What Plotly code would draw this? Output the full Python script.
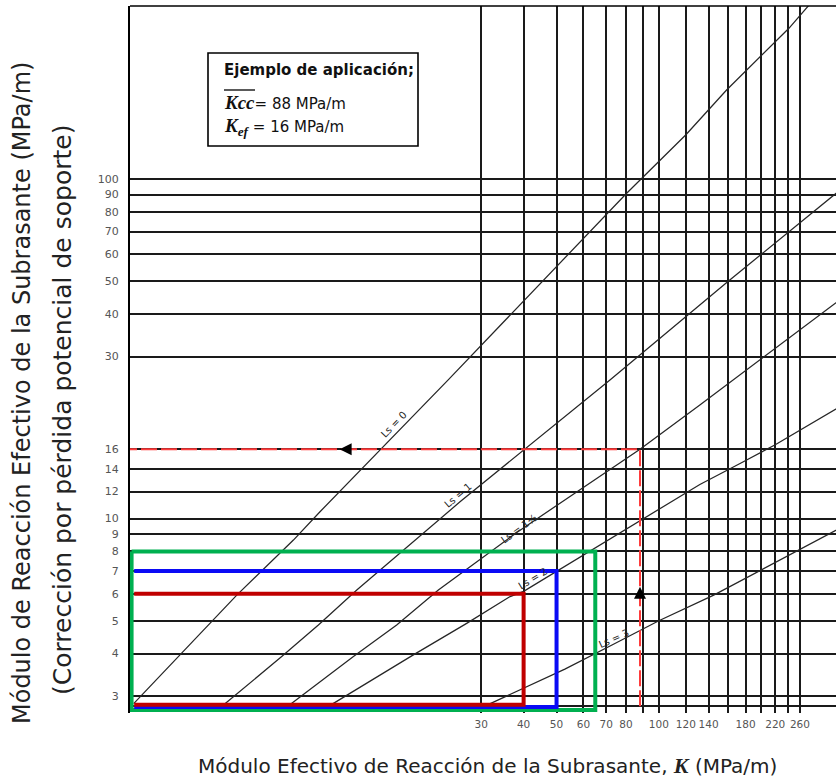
import numpy as np
import plotly.graph_objects as go

# --- Ls curves: effective modulus K (x) vs corrected modulus Kef (y), MPa/m ---
ls0_k = [2.85, 3.86, 5.73, 8.41, 10.07, 24.0, 80.4, 119.9, 158.2, 241.3, 280.0]
ls0_kef = [2.85, 3.92, 5.95, 8.64, 10.47, 25.6, 90.8, 134.8, 182.9, 277.9, 330.0]

ls1_k = [5.3, 7.77, 9.96, 12.92, 26.0, 71.8, 160, 200, 240, 340]
ls1_kef = [2.85, 3.92, 4.86, 6.16, 11.2, 25.6, 50, 60, 70, 92.5]

ls15_k = [8.3, 12.63, 16.93, 22.45, 38.2, 88, 132, 200, 340]
ls15_kef = [2.85, 3.92, 4.86, 6.16, 9.1, 16.0, 21.6, 29.5, 44.0]

ls2_k = [11.0, 18.9, 27.2, 36.5, 40, 132, 175, 220, 340]
ls2_kef = [2.85, 3.96, 4.91, 5.89, 6.1, 12.6, 14.6, 16.5, 21.3]

ls3_k = [31.9, 52.9, 72.8, 100, 145, 200, 340]
ls3_kef = [2.85, 3.6, 4.24, 5.0, 5.95, 7.05, 9.35]

curve_names = ["Ls = 0", "Ls = 1", "Ls = 1½", "Ls = 2", "Ls = 3"]
label_k = [16.6, 25.6, 38.8, 42.6, 73.8]
label_kef = [18.9, 11.7, 9.35, 6.65, 4.42]
label_angle = [-46, -40, -36, -31, -24]

# --- grid values: labelled and unlabelled lines ---
k_ticks = [30, 40, 50, 60, 70, 80, 100, 120, 140, 180, 220, 260]
k_extra = [90, 160, 200, 240]
kef_base = 2.8
kef_ticks = [3, 4, 5, 6, 7, 8, 9, 10, 12, 14, 16, 30, 40, 50, 60, 70, 80, 90, 100]
kef_extra = [kef_base]

# --- worked example ---
ex_kcc = 88
ex_kef = 16

# --- highlighted cases (K, Kef) ---
case_k = [65, 50, 40]
case_kef = [8, 7, 6]
case_bottom = [2.73, 2.785, 2.83]
case_left = [2.81, 2.86, 2.86]
case_closed = [True, False, False]
case_color = ["#00b050", "#0a0af5", "#c00000"]

x_min, x_max = 2.78, 332.0
y_min, y_max = 2.674, 323.3

W, H = 836, 779
ML, MR, MT, MB = 130, 0, 6, 66
PW, PH = W - ML - MR, H - MT - MB
SANS = "DejaVu Sans"
SERIF = "Liberation Serif"
GRID = dict(showgrid=True, gridcolor="#1a1a1a", gridwidth=1.6)


def px(x):
    return (x - ML) / PW


def py(y):
    return (H - MB - y) / PH


fig = go.Figure()

curve_line = dict(color="#262626", width=1.25)
for ks, kefs in [(ls0_k, ls0_kef), (ls1_k, ls1_kef), (ls15_k, ls15_kef),
                 (ls2_k, ls2_kef), (ls3_k, ls3_kef)]:
    fig.add_trace(go.Scatter(x=ks, y=kefs, mode="lines", line=curve_line,
                             hoverinfo="skip", showlegend=False))

# example path
fig.add_trace(go.Scatter(x=[ex_kcc, ex_kcc, x_min], y=[kef_base, ex_kef, ex_kef],
                         mode="lines", line=dict(color="#ff3b3b", width=2, dash="16px,4px"),
                         hoverinfo="skip", showlegend=False))

# highlighted rectangles (the outer one is closed along the axis)
for k, kef, b, l, closed, c in zip(case_k, case_kef, case_bottom, case_left,
                                   case_closed, case_color):
    xs = [l, k, k, l] + ([l] if closed else [])
    ys = [kef, kef, b, b] + ([kef] if closed else [])
    fig.add_trace(go.Scatter(x=xs, y=ys, mode="lines", line=dict(color=c, width=4),
                             hoverinfo="skip", showlegend=False))

# direction arrows on the example path
fig.add_trace(go.Scatter(x=[ex_kcc], y=[6.3], mode="markers",
                         marker=dict(symbol="arrow-up", size=12, color="black"),
                         hoverinfo="skip", showlegend=False))
fig.add_trace(go.Scatter(x=[11.5], y=[ex_kef], mode="markers",
                         marker=dict(symbol="arrow-left", size=12, color="black"),
                         hoverinfo="skip", showlegend=False))

annotations = []
for name, k, kef, ang in zip(curve_names, label_k, label_kef, label_angle):
    annotations.append(dict(x=np.log10(k), y=np.log10(kef), xref="x", yref="y",
                            text=name, showarrow=False, textangle=ang,
                            font=dict(family=SANS, size=10, color="#222")))

serif = f"font-family:{SERIF};font-size:19px"
annotations += [
    dict(x=px(222), y=py(70), xref="paper", yref="paper", xanchor="left", yanchor="middle",
         text="<b>Ejemplo de aplicación;</b>", showarrow=False,
         font=dict(family=SANS, size=15, color="#111")),
    dict(x=px(222), y=py(102), xref="paper", yref="paper", xanchor="left", yanchor="middle",
         text=f'<span style="{serif}"><b><i>Kcc</i></b></span>= {ex_kcc} MPa/m', showarrow=False,
         font=dict(family=SANS, size=15, color="#111")),
    dict(x=px(222), y=py(127), xref="paper", yref="paper", xanchor="left", yanchor="middle",
         text=f'<span style="{serif}"><b><i>K<sub>ef</sub></i></b></span> = {ex_kef} MPa/m',
         showarrow=False, font=dict(family=SANS, size=15, color="#111")),
    dict(x=px(487), y=py(765), xref="paper", yref="paper", xanchor="center", yanchor="middle",
         text='Módulo Efectivo de Reacción de la Subrasante, '
              f'<span style="font-family:{SERIF};font-size:22px"><b><i>K</i></b></span> (MPa/m)',
         showarrow=False, font=dict(family=SANS, size=20, color="#222")),
    dict(x=px(22), y=py(393), xref="paper", yref="paper", xanchor="center", yanchor="middle",
         text="Módulo de Reacción Efectivo de la Subrasante (MPa/m)", textangle=-90,
         showarrow=False, font=dict(family=SANS, size=24, color="#222")),
    dict(x=px(62), y=py(410), xref="paper", yref="paper", xanchor="center", yanchor="middle",
         text="(Corrección por pérdida potencial de soporte)", textangle=-90,
         showarrow=False, font=dict(family=SANS, size=25, color="#222")),
]

shapes = [
    dict(type="line", xref="paper", yref="paper", x0=0, x1=1, y0=1, y1=1,
         line=dict(color="black", width=1.6)),
    dict(type="rect", xref="paper", yref="paper", x0=px(208), x1=px(418), y0=py(146), y1=py(53),
         line=dict(color="black", width=1.6)),
    dict(type="line", xref="paper", yref="paper", x0=px(224), x1=px(255), y0=py(90), y1=py(90),
         line=dict(color="black", width=1.3)),
]

fig.update_layout(
    width=W, height=H, margin=dict(l=ML, r=MR, t=MT, b=MB),
    paper_bgcolor="white", plot_bgcolor="white", showlegend=False,
    annotations=annotations, shapes=shapes,
    xaxis=dict(type="log", range=[np.log10(x_min), np.log10(x_max)],
               tickmode="array", tickvals=k_ticks, ticktext=[str(v) for v in k_ticks],
               tickangle=0, **GRID,
               minor=dict(tickmode="array", tickvals=k_extra, ticks="", **GRID),
               zeroline=False, showline=False, ticks="",
               ticklabelstandoff=3,
               tickfont=dict(family=SANS, size=10.5, color="#555")),
    yaxis=dict(type="log", range=[np.log10(y_min), np.log10(y_max)],
               tickmode="array", tickvals=kef_ticks, ticktext=[str(v) for v in kef_ticks],
               **GRID,
               minor=dict(tickmode="array", tickvals=kef_extra, ticks="", **GRID),
               zeroline=False, showline=True, linecolor="black", linewidth=2, ticks="",
               ticklabelstandoff=7,
               tickfont=dict(family=SANS, size=11, color="#555")),
)

fig.write_html("out.html")
